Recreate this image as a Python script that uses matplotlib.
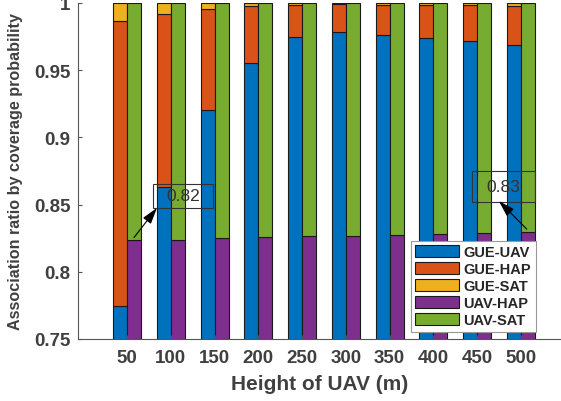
import numpy as np
import matplotlib
matplotlib.use('Agg')
import matplotlib.pyplot as plt
from matplotlib.patches import Patch, Rectangle

# data
heights = [50, 100, 150, 200, 250, 300, 350, 400, 450, 500]
gue_uav = [0.7746, 0.8629, 0.9204, 0.9554, 0.9747, 0.9782, 0.9762, 0.9740, 0.9717, 0.9688]
gue_hap = [0.2118, 0.1289, 0.0751, 0.0421, 0.0240, 0.0208, 0.0225, 0.0245, 0.0268, 0.0292]
gue_sat = [0.0136, 0.0082, 0.0045, 0.0025, 0.0013, 0.0010, 0.0013, 0.0015, 0.0015, 0.0020]
uav_hap = [0.8237, 0.8239, 0.8251, 0.8259, 0.8266, 0.8270, 0.8277, 0.8280, 0.8289, 0.8298]
uav_sat = [0.1763, 0.1761, 0.1749, 0.1741, 0.1734, 0.1730, 0.1723, 0.1720, 0.1711, 0.1702]
legend_labels = ['GUE-UAV', 'GUE-HAP', 'GUE-SAT', 'UAV-HAP', 'UAV-SAT']

colors = ['#0072BD', '#D95319', '#EDB120', '#7E2F8E', '#77AC30']
txt_col = '#404040'
font = 'Liberation Sans'

fig = plt.figure(figsize=(5.61, 4.02), dpi=100)
ax = fig.add_axes([78 / 561, 1 - 340 / 402, 483 / 561, 336 / 402])

x = np.arange(1, len(heights) + 1)
w = 0.32
ec = dict(edgecolor='#1a1a1a', linewidth=0.8)

g1 = np.array(gue_uav)
g2 = g1 + np.array(gue_hap)
ax.bar(x - w / 2, gue_uav, w, color=colors[0], **ec)
ax.bar(x - w / 2, gue_hap, w, bottom=g1, color=colors[1], **ec)
ax.bar(x - w / 2, gue_sat, w, bottom=g2, color=colors[2], **ec)
ax.bar(x + w / 2, uav_hap, w, color=colors[3], **ec)
ax.bar(x + w / 2, uav_sat, w, bottom=uav_hap, color=colors[4], **ec)

ax.set_xlim(-0.119, 10.913)
ax.set_ylim(0.75, 1.0)
ax.set_xticks(x)
ax.set_xticklabels([str(h) for h in heights])
ax.set_yticks([0.75, 0.8, 0.85, 0.9, 0.95, 1.0])
ax.set_yticklabels(['0.75', '0.8', '0.85', '0.9', '0.95', '1'])

ax.tick_params(axis='both', direction='in', length=3, width=0.8, colors='#555555')
ax.tick_params(axis='y', pad=5.5)
ax.tick_params(axis='x', pad=7)
for lab in ax.get_xticklabels() + ax.get_yticklabels():
    lab.set_fontfamily(font)
    lab.set_fontweight('bold')
    lab.set_fontsize(13.5)
    lab.set_color(txt_col)

ax.spines['top'].set_visible(False)
ax.spines['right'].set_visible(False)
ax.spines['left'].set_color('#555555')
ax.spines['bottom'].set_color('#555555')

ax.set_xlabel('Height of UAV (m)', fontfamily=font, fontweight='bold', fontsize=15, color=txt_col)
ax.set_ylabel('Association ratio by coverage probability', fontfamily=font, fontweight='bold',
              fontsize=11.6, color=txt_col)
ax.xaxis.set_label_coords(0.5, -0.104)
ax.yaxis.set_label_coords(-0.114, 0.5)

# annotations (text box + arrow)
def note(label, box, head, tail):
    x0, y0, x1, y1 = box
    ax.add_patch(Rectangle((x0, y0), x1 - x0, y1 - y0, fill=False, edgecolor='#333333',
                           linewidth=0.8, clip_on=False, zorder=5))
    ax.text((x0 + x1) / 2, (y0 + y1) / 2, label, ha='center', va='center', fontfamily=font,
            fontsize=12.5, color='#333333', zorder=6)
    ax.annotate('', xy=head, xytext=tail,
                arrowprops=dict(arrowstyle='-|>,head_length=1.0,head_width=0.3', color='black',
                                linewidth=0.8, shrinkA=0, shrinkB=0), zorder=6)

note('0.82', (1.593, 0.8475, 2.963, 0.8653), (1.685, 0.8475), (1.16, 0.8255))
note('0.83', (8.876, 0.8519, 10.315, 0.8750), (9.493, 0.8527), (10.13, 0.8318))

handles = [Patch(facecolor=c, edgecolor='#1a1a1a', linewidth=0.8) for c in colors]
leg = fig.legend(handles, legend_labels, loc='upper left', bbox_to_anchor=(411 / 561, 1 - 242 / 402),
                 prop=dict(family=font, weight='bold', size=10.5), handlelength=3.0, handleheight=0.9,
                 labelspacing=0.2, handletextpad=0.3, borderpad=0.3, borderaxespad=0,
                 fancybox=False, framealpha=1, edgecolor='#999999')
leg.get_frame().set_linewidth(0.8)
for t in leg.get_texts():
    t.set_color('#262626')

fig.savefig('out.png', dpi=100)
